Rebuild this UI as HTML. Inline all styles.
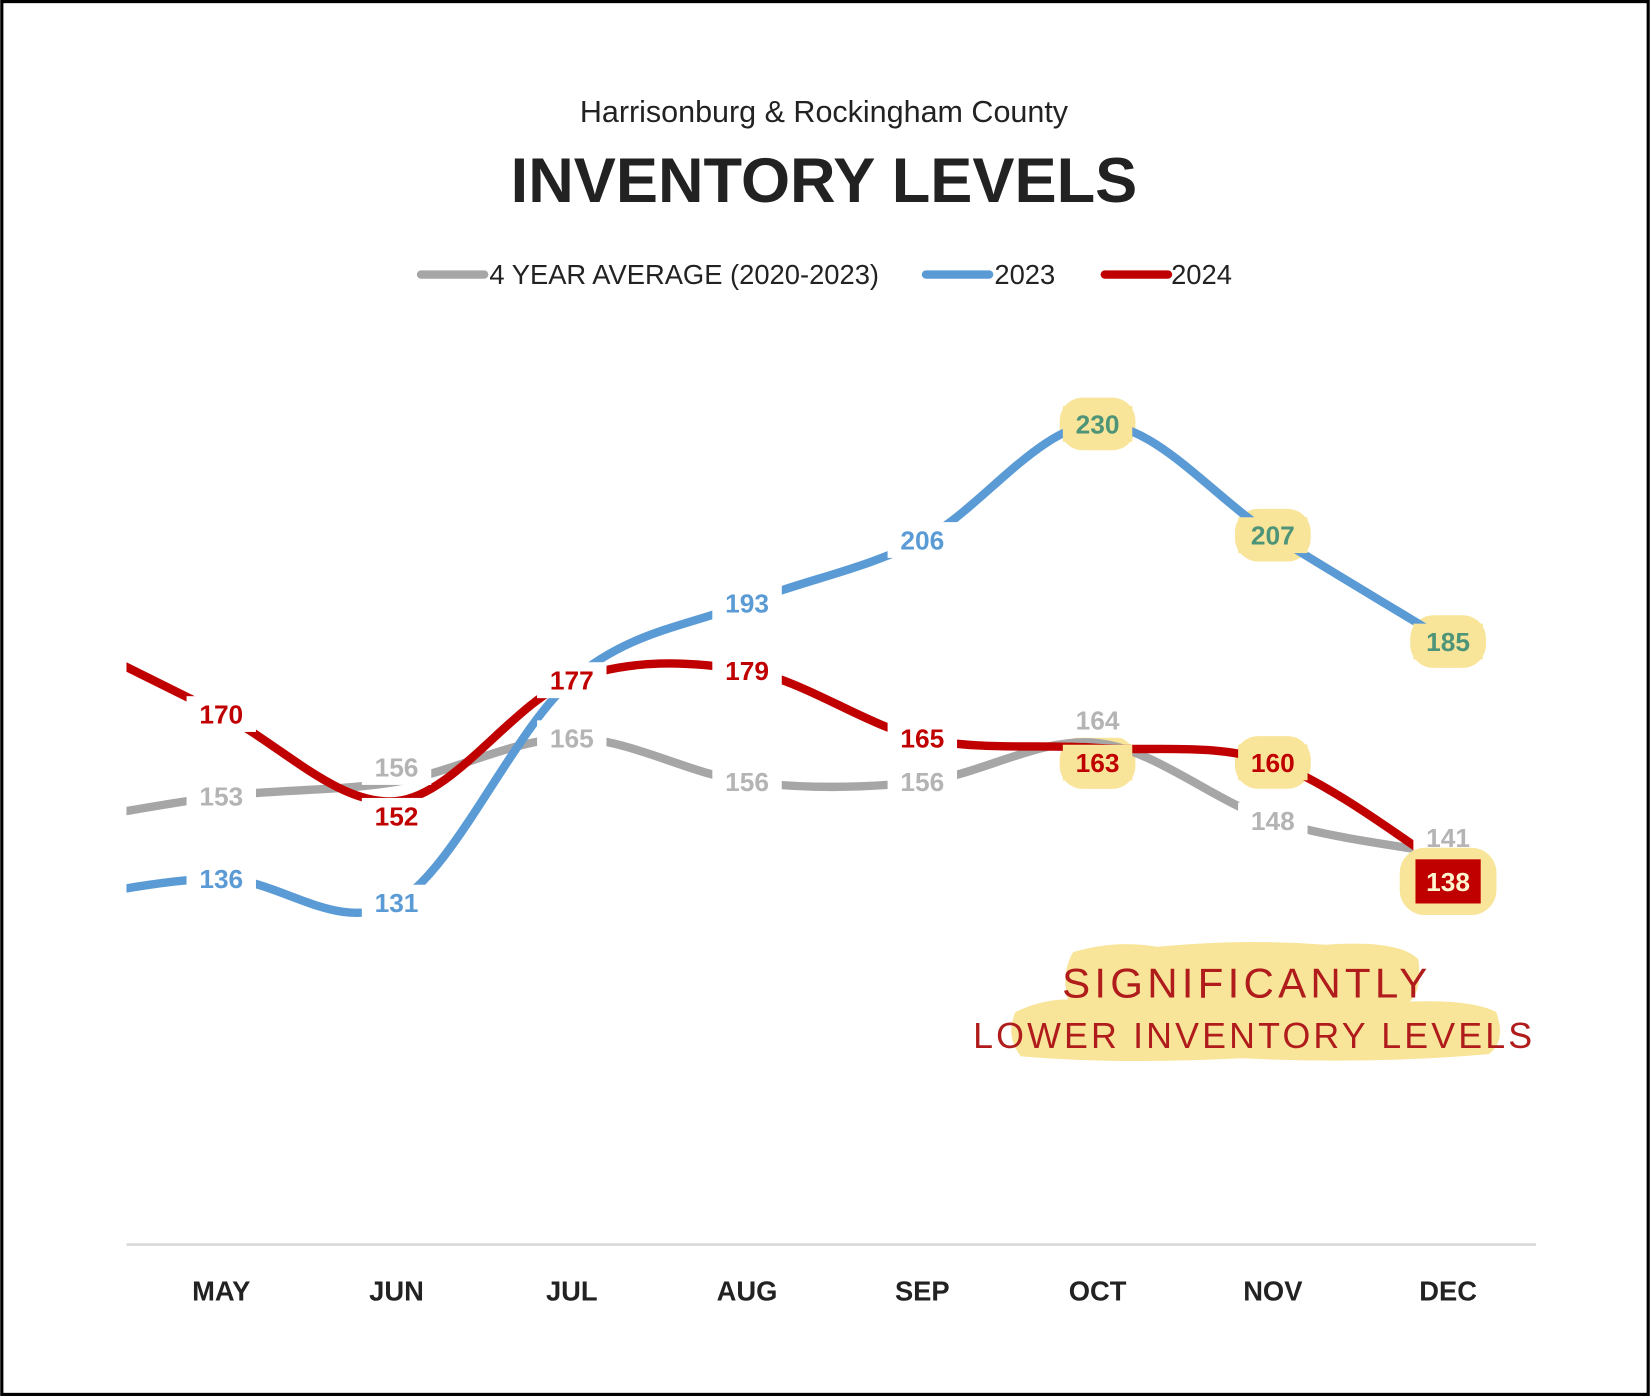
<!DOCTYPE html>
<html><head><meta charset="utf-8"><style>
html,body{margin:0;padding:0;background:#fff}
svg{display:block}
text{font-family:"Liberation Sans",sans-serif}
</style></head><body>
<svg id="chart" width="1650" height="1396" viewBox="0 0 1568 1327" xmlns="http://www.w3.org/2000/svg">
<rect x="1.5" y="1.5" width="1565" height="1324" fill="#fff" stroke="#000" stroke-width="3"/>
<text x="783" y="116" text-anchor="middle" font-size="29" fill="#222">Harrisonburg &amp; Rockingham County</text>
<text x="783" y="192" text-anchor="middle" font-size="60" font-weight="bold" fill="#222">INVENTORY LEVELS</text>
<g font-size="26" fill="#222">
<line x1="400" y1="261" x2="460" y2="261" stroke="#a6a6a6" stroke-width="8" stroke-linecap="round"/>
<text x="465" y="270">4 YEAR AVERAGE (2020-2023)</text>
<line x1="880" y1="261" x2="940" y2="261" stroke="#5b9bd5" stroke-width="8" stroke-linecap="round"/>
<text x="945" y="270">2023</text>
<line x1="1050" y1="261" x2="1110" y2="261" stroke="#c00000" stroke-width="8" stroke-linecap="round"/>
<text x="1113" y="270">2024</text>
</g>
<line x1="120" y1="1183" x2="1460" y2="1183" stroke="#d9d9d9" stroke-width="2.5"/>
<defs><clipPath id="plotclip"><rect x="120" y="300" width="1340" height="880"/></clipPath></defs>
<g id="blobs"></g>
<g id="lines" clip-path="url(#plotclip)"></g>
<g id="labels"></g>
<g id="xlabels"></g>
<g>
<path d="M1020,905 Q1060,893 1100,900 Q1180,892 1260,898 Q1330,893 1348,912 Q1352,940 1340,952 Q1400,950 1422,962 Q1432,990 1415,1002 Q1300,1012 1180,1006 Q1060,1012 970,1004 Q955,985 965,962 Q990,950 1015,950 Q1008,925 1020,905 Z" fill="#f8e59a"/>
<text x="1185" y="948" text-anchor="middle" font-size="40" fill="#b01c1c" letter-spacing="4" transform="scale(1,1)">SIGNIFICANTLY</text>
<text x="1192" y="996" text-anchor="middle" font-size="34" fill="#b01c1c" letter-spacing="3">LOWER  INVENTORY LEVELS</text>
</g>
</svg>
<script>
const months = ["APR","MAY","JUN","JUL","AUG","SEP","OCT","NOV","DEC"];
const avgValues = [147,153,156,165,156,156,164,148,141];
const values2023 = [131,136,131,177,193,206,230,207,185];
const values2024 = [188,170,152,177,179,165,163,160,138];
const shownLabels = ["MAY","JUN","JUL","AUG","SEP","OCT","NOV","DEC"];
const highlighted = ["OCT","NOV","DEC"];

const NS = "http://www.w3.org/2000/svg";
function xScale(i){ return 43.5 + i*166.6; }
function yScale(v){ return 403 + (230 - v)*4.596; }
function mk(tag, attrs, parent){ const e=document.createElementNS(NS,tag); for(const k in attrs) e.setAttribute(k,attrs[k]); parent.appendChild(e); return e; }

function smoothPath(vals){
  const p = vals.map((v,i)=>[xScale(i),yScale(v)]);
  let d = "M"+p[0][0]+","+p[0][1];
  for(let i=0;i<p.length-1;i++){
    const p0=p[Math.max(0,i-1)], p1=p[i], p2=p[i+1], p3=p[Math.min(p.length-1,i+2)];
    const t=1/6;
    const c1=[p1[0]+(p2[0]-p0[0])*t, p1[1]+(p2[1]-p0[1])*t];
    const c2=[p2[0]-(p3[0]-p1[0])*t, p2[1]-(p3[1]-p1[1])*t];
    d+=" C"+c1.join(",")+" "+c2.join(",")+" "+p2.join(",");
  }
  return d;
}

const lines = document.getElementById("lines");
const labels = document.getElementById("labels");
const blobs = document.getElementById("blobs");
const series = [
  {name:"avg", vals:avgValues, color:"#a6a6a6", text:"#b4b4b4", dy:0},
  {name:"2023", vals:values2023, color:"#5b9bd5", text:"#5b9bd5", dy:0},
  {name:"2024", vals:values2024, color:"#c00000", text:"#c00000", dy:0}
];
series.forEach(s=>{
  const path = mk("path",{d:smoothPath(s.vals),fill:"none",stroke:s.color,"stroke-width":8,"stroke-linecap":"butt"},lines);
  
  
});
// label offsets where labels collide
const offsets = {"avg-OCT":-22,"2024-OCT":14,"avg-DEC":-16,"2024-DEC":12,"2024-JUN":14,"avg-JUN":-14};
series.forEach(s=>{
  s.vals.forEach((v,i)=>{
    const m = months[i];
    if(shownLabels.indexOf(m)<0) return;
    const x = xScale(i);
    const y = yScale(v) + (offsets[s.name+"-"+m]||0);
    const bg = mk("rect",{x:x-33,y:y-17,width:66,height:34,fill:"#fff"},labels);
    
    
    let fill = s.text;
    const hl = s.name!=="avg" && highlighted.indexOf(m)>=0;
    if(hl){
      const b = mk("rect",{x:x-36,y:y-25,width:72,height:50,rx:22,fill:"#f8e59a"},blobs);
      
      
      bg.setAttribute("fill","#f8e59a");
      if(s.name==="2023") fill="#4e9479";
    }
    if(s.name==="2024" && m==="DEC"){
      b2 = mk("rect",{x:x-46,y:y-32,width:92,height:64,rx:24,fill:"#f8e59a"},labels);
      
      
      const r = mk("rect",{x:x-31,y:y-21,width:62,height:42,fill:"#c00000"},labels);
      
      
      fill="#fff6d0";
    }
    const t = mk("text",{x:x,y:y+9,"text-anchor":"middle","font-size":25,"font-weight":"bold",fill:fill},labels);
    t.textContent = v;
    
    
  });
});
const xl = document.getElementById("xlabels");
months.forEach((m,i)=>{
  if(shownLabels.indexOf(m)<0) return;
  const t = mk("text",{x:xScale(i),y:1236,"text-anchor":"middle","font-size":26,"font-weight":"bold",fill:"#222"},xl);
  t.textContent = m;
  
  
});
</script>
</body></html>
